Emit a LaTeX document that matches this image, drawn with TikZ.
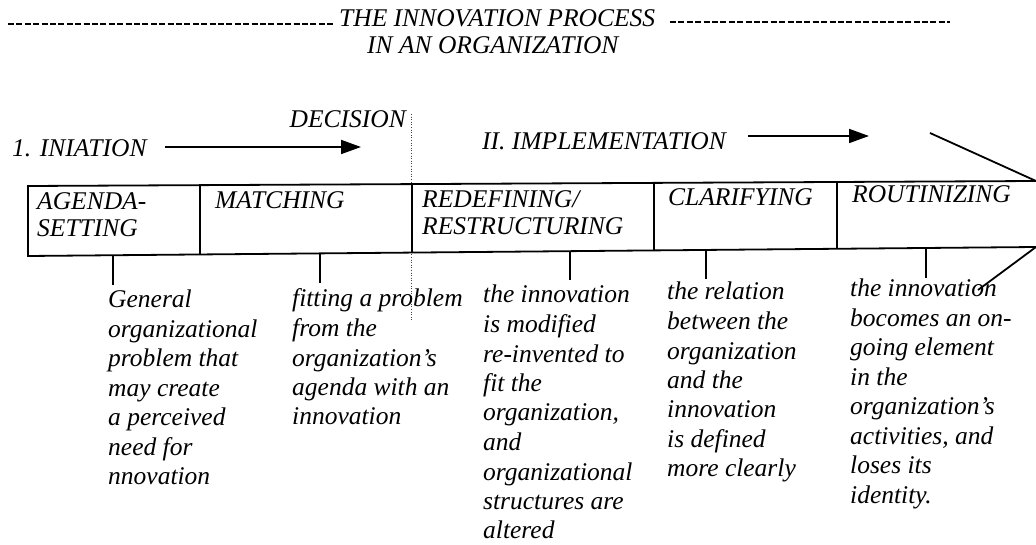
\documentclass[tikz,border=0pt]{standalone}
\usepackage{fontspec}
\setmainfont{Liberation Serif}
\newfontfamily\tmsfont{Liberation Serif}
\usetikzlibrary{arrows.meta,calc}
\newcommand\colstack[1]{\vtop{\baselineskip=29.5pt\lineskiplimit=-50pt\lineskip=0pt\halign{##\hfil\cr#1\crcr}}}
\newcommand\hdstack[1]{\vtop{\baselineskip=27pt\lineskiplimit=-50pt\lineskip=0pt\halign{##\hfil\cr#1\crcr}}}
\tikzset{
  txt/.style={font=\tmsfont\fontsize{25.5}{29.5}\selectfont\itshape, inner sep=0pt, anchor=base west},
  titledash/.style={line width=1.5pt, dash pattern=on 6pt off 2.4pt},
  flow/.style={line width=1.8pt, -{Triangle[length=20pt,width=14pt]}},
  boxline/.style={line width=1.8pt},
  tick/.style={line width=1.6pt},
  dotline/.style={line width=1pt, dash pattern=on 1pt off 1.6pt, black!75},
}
\begin{document}
\begin{tikzpicture}[x=1pt,y=-1pt]
\useasboundingbox (0,0) rectangle (1036,545);
% title
\node[txt] (t1) at (339,27) {THE INNOVATION PROCESS};
\node[txt] (t2) at (367,54) {IN AN ORGANIZATION};
\coordinate (dl1) at (8,24); \coordinate (dl2) at (334,24);
\coordinate (dr1) at (670,22); \coordinate (dr2) at (950,22);
\draw[titledash] (dl1) -- (dl2);
\draw[titledash] (dr1) -- (dr2);
% phases
\node[txt] (ini) at (12,157) {1. INIATION};
\node[txt, anchor=base east] (dec) at (406,128) {DECISION};
\node[txt] (imp) at (482,150) {II. IMPLEMENTATION};
\coordinate (a1s) at (165,147); \coordinate (a1e) at (361,147);
\coordinate (a2s) at (748,136); \coordinate (a2e) at (869,136);
\draw[flow] (a1s) -- (a1e);
\draw[flow] (a2s) -- (a2e);
\coordinate (dt) at (411,114); \coordinate (db) at (411,322);
\draw[dotline] (dt) -- (db);
% box
\coordinate (TL) at (28,186); \coordinate (TR) at (1036,181);
\coordinate (BL) at (28,256); \coordinate (BR) at (1036,247);
\draw[boxline] (TR) -- (TL) -- (BL) -- (BR);
\foreach \f in {0.1706,0.381,0.621,0.8026}
  \draw[boxline] ($(TL)!\f!(TR)$) -- ($(BL)!\f!(BR)$);
\coordinate (c1) at (930,133); \coordinate (c2) at (978,290);
\draw[boxline] (c1) -- (TR);
\draw[boxline] (BR) -- (c2);
% ticks
\foreach \x/\l in {113/30,320/30,570/29,706/29,926/30}
  \draw[tick] ($(BL)!{(\x-28)/1008}!(BR)$) -- ++(0,\l);
% stage names
\node[txt] (s1) at (37,210) {\hdstack{AGENDA-\cr SETTING}};
\node[txt] (s2) at (215,209) {MATCHING};
\node[txt] (s3) at (422,208) {\hdstack{REDEFINING/\cr RESTRUCTURING}};
\node[txt] (s4) at (668,206) {CLARIFYING};
\node[txt] (s5) at (852,203) {ROUTINIZING};
% descriptions
\node[txt] (d1) at (108,308) {\colstack{General\cr organizational\cr problem that\cr may create\cr a perceived\cr need for\cr nnovation}};
\node[txt] (d2) at (292,307) {\colstack{fitting a problem\cr from the\cr organization’s\cr agenda with an\cr innovation}};
\node[txt] (d3) at (483,303) {\colstack{the innovation\cr is modified\cr re-invented to\cr fit the\cr organization,\cr and\cr organizational\cr structures are\cr altered}};
\node[txt] (d4) at (667,300) {\colstack{the relation\cr between the\cr organization\cr and the\cr innovation\cr is defined\cr more clearly}};
\node[txt] (d5) at (850,297) {\colstack{the innovation\cr bocomes an on-\cr going element\cr in the\cr organization’s\cr activities, and\cr loses its\cr identity.}};
\end{tikzpicture}
\end{document}
